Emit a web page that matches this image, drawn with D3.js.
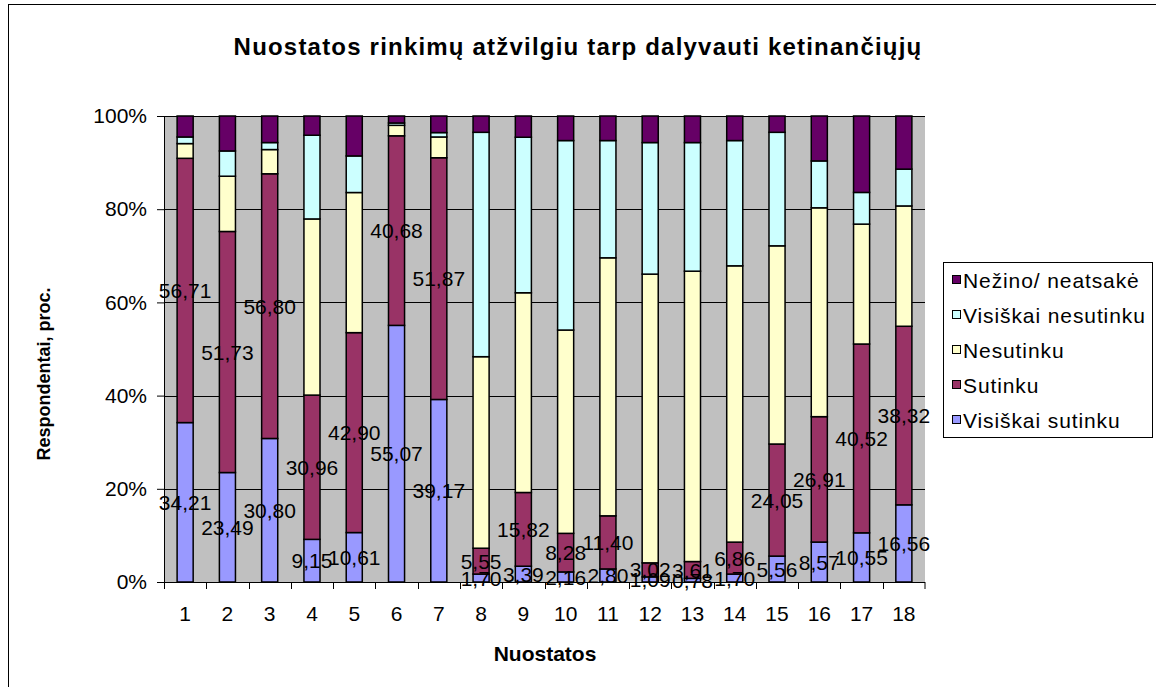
<!DOCTYPE html>
<html>
<head>
<meta charset="utf-8">
<script src="https://cdn.jsdelivr.net/npm/d3@7"></script>
<style>
body { margin: 0; background: #fff; }
text { font-family: "Liberation Sans", Arial, sans-serif; fill: #000; }
</style>
</head>
<body>
<svg id="chart" width="1156" height="687"></svg>
<script>
"use strict"

// chart values
var categories = ["1", "2", "3", "4", "5", "6", "7", "8", "9", "10", "11", "12", "13", "14", "15", "16", "17", "18"];
var seriesNames = ["Visiškai sutinku", "Sutinku", "Nesutinku", "Visiškai nesutinku", "Nežino/ neatsakė"];
var visiskaiSutinku = [34.21, 23.49, 30.80, 9.15, 10.61, 55.07, 39.17, 1.70, 3.39, 2.16, 2.80, 1.09, 0.78, 1.70, 5.56, 8.57, 10.55, 16.56];
var sutinku = [56.71, 51.73, 56.80, 30.96, 42.90, 40.68, 51.87, 5.55, 15.82, 8.28, 11.40, 3.02, 3.61, 6.86, 24.05, 26.91, 40.52, 38.32];
var nesutinku = [3.16, 11.86, 5.20, 37.80, 30.07, 2.25, 4.46, 41.10, 42.86, 43.63, 55.37, 61.96, 62.31, 59.29, 42.53, 44.82, 25.73, 25.82];
var visiskaiNesutinku = [1.42, 5.42, 1.50, 17.96, 7.85, 0.50, 0.94, 48.15, 33.37, 40.66, 25.16, 28.23, 27.60, 26.88, 24.36, 10.06, 6.80, 7.90];
var nezino = [4.50, 7.50, 5.70, 4.13, 8.57, 1.50, 3.56, 3.50, 4.56, 5.27, 5.27, 5.70, 5.70, 5.27, 3.50, 9.64, 16.40, 11.40];
var yTicks = [0, 0.2, 0.4, 0.6, 0.8, 1];

var colors = {
    "Visiškai sutinku": "#9999FF",
    "Sutinku": "#993366",
    "Nesutinku": "#FFFFCC",
    "Visiškai nesutinku": "#CCFFFF",
    "Nežino/ neatsakė": "#660066"
};
var labelled = ["Visiškai sutinku", "Sutinku"];

// build rows for d3.stack
var seriesValues = [visiskaiSutinku, sutinku, nesutinku, visiskaiNesutinku, nezino];
var rows = categories.map(function(c, i) {
    var out = {name: c};
    for (var s in seriesNames) {
        out[seriesNames[s]] = seriesValues[s][i];
    }
    return out;
});

var svg = d3.select("#chart");

// outer chart frame
svg.append("rect")
    .attr("x", 8.5).attr("y", 4.5)
    .attr("width", 1160).attr("height", 700)
    .attr("fill", "#fff")
    .attr("stroke", "#000")
    .attr("stroke-width", 1);

var plotLeft = 164, plotRight = 925, plotTop = 116, plotBottom = 582;

var x = d3.scaleBand()
    .domain(categories)
    .range([plotLeft, plotRight]);
var barW = x.bandwidth() * 0.38;

var y = d3.scaleLinear()
    .domain([0, 1])
    .range([plotBottom, plotTop]);

// plot area
svg.append("rect")
    .attr("x", plotLeft).attr("y", plotTop)
    .attr("width", plotRight - plotLeft).attr("height", plotBottom - plotTop)
    .attr("fill", "#C0C0C0");

// gridlines
svg.append("g")
    .selectAll("line")
    .data(yTicks.slice(1))
    .enter()
    .append("line")
    .attr("x1", plotLeft).attr("x2", plotRight)
    .attr("y1", function(d) { return Math.round(y(d)) + 0.5; })
    .attr("y2", function(d) { return Math.round(y(d)) + 0.5; })
    .attr("stroke", "#000")
    .attr("stroke-width", 1);

// stacked bars
var stackedData = d3.stack()
    .keys(seriesNames)
    .offset(d3.stackOffsetExpand)
    (rows);

svg.append("g")
    .selectAll("g")
    .data(stackedData)
    .enter()
    .append("g")
    .attr("fill", function(d) { return colors[d.key]; })
    .selectAll("rect")
    .data(function(d) { return d; })
    .enter()
    .append("rect")
    .attr("x", function(d) { return x(d.data.name) + (x.bandwidth() - barW) / 2; })
    .attr("y", function(d) { return y(d[1]); })
    .attr("width", barW)
    .attr("height", function(d) { return y(d[0]) - y(d[1]); })
    .attr("stroke", "#000")
    .attr("stroke-width", 1.5);

// axes
var yAxis = svg.append("g")
    .attr("transform", "translate(" + plotLeft + ",0)")
    .call(d3.axisLeft(y).tickValues(yTicks).tickFormat(d3.format(".0%")).tickSize(7).tickSizeOuter(0).tickPadding(10));
yAxis.select(".domain").attr("stroke", "#000");
yAxis.selectAll("text").style("font-size", "21px").attr("font-family", null);

var xAxis = svg.append("g")
    .attr("transform", "translate(0," + plotBottom + ")")
    .call(d3.axisBottom(x).tickSize(0).tickPadding(24));
xAxis.select(".domain").attr("d", "M" + plotLeft + ",0.5H" + plotRight);
xAxis.selectAll("text").style("font-size", "21px").attr("font-family", null);

// tick marks between categories
svg.append("g")
    .selectAll("line")
    .data(categories.concat([null]))
    .enter()
    .append("line")
    .attr("x1", function(d) { return d === null ? plotRight : Math.round(x(d)) + 0.5; })
    .attr("x2", function(d) { return d === null ? plotRight : Math.round(x(d)) + 0.5; })
    .attr("y1", plotBottom)
    .attr("y2", plotBottom + 7)
    .attr("stroke", "#000");

// data labels for the two lower series
var fmt = function(v) { return d3.format(".2f")(v).replace(".", ","); };
var labelGroups = stackedData.filter(function(d) { return labelled.indexOf(d.key) >= 0; });
svg.append("g")
    .selectAll("g")
    .data(labelGroups)
    .enter()
    .append("g")
    .selectAll("text")
    .data(function(d) { return d.map(function(p) { return {p: p, key: d.key}; }); })
    .enter()
    .append("text")
    .attr("x", function(d) { return x(d.p.data.name) + x.bandwidth() / 2; })
    .attr("y", function(d) { return y((d.p[0] + d.p[1]) / 2); })
    .attr("dy", "0.36em")
    .attr("text-anchor", "middle")
    .style("font-size", "21px")
    .text(function(d) { return fmt(d.p.data[d.key]); });

// titles
svg.append("text")
    .attr("x", 578).attr("y", 55)
    .attr("text-anchor", "middle")
    .style("font-size", "24px").style("font-weight", "bold")
    .style("letter-spacing", "1.2px")
    .text("Nuostatos rinkimų atžvilgiu tarp dalyvauti ketinančiųjų");

svg.append("text")
    .attr("x", 545).attr("y", 661)
    .attr("text-anchor", "middle")
    .style("font-size", "21px").style("font-weight", "bold")
    .text("Nuostatos");

svg.append("text")
    .attr("transform", "translate(50,374) rotate(-90)")
    .attr("text-anchor", "middle")
    .style("font-size", "18px").style("font-weight", "bold")
    .text("Respondentai, proc.");

// legend
var legend = svg.append("g");
legend.append("rect")
    .attr("x", 943.5).attr("y", 262.5)
    .attr("width", 209).attr("height", 175)
    .attr("fill", "#fff")
    .attr("stroke", "#000");
var legendItems = legend.selectAll("g")
    .data(seriesNames.slice().reverse())
    .enter()
    .append("g")
    .attr("transform", function(d, i) { return "translate(952," + (280 + i * 35) + ")"; });
legendItems.append("rect")
    .attr("x", 0.5).attr("y", -4.5)
    .attr("width", 8).attr("height", 8)
    .attr("fill", function(d) { return colors[d]; })
    .attr("stroke", "#000");
legendItems.append("text")
    .attr("x", 11).attr("y", 0)
    .attr("dy", "0.36em")
    .style("font-size", "21px")
    .style("letter-spacing", "0.9px")
    .text(function(d) { return d; });
</script>
</body>
</html>
